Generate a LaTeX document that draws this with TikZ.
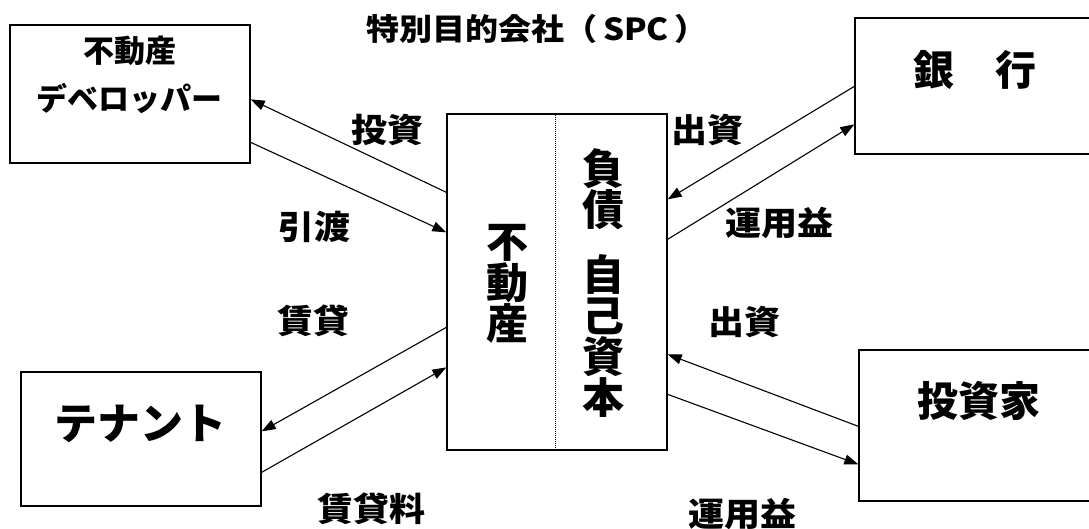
\documentclass[tikz,border=0pt]{standalone}
\usepackage{fontspec}
\setmainfont{Noto Sans CJK JP}
\usetikzlibrary{arrows.meta,calc}
\begin{document}
\begin{tikzpicture}[x=1pt,y=-1pt,
  box/.style={draw,line width=1.3pt,minimum width=240pt,inner sep=0pt},
  conn/.style={line width=1.1pt,-{Triangle[length=14pt,width=10pt]}},
  lab/.style={font=\bfseries\fontsize{36}{38}\selectfont,inner sep=0pt,yscale=0.92},
  big/.style={font=\bfseries\fontsize{41}{43}\selectfont,inner sep=0pt},
  vert/.style={font=\bfseries\fontsize{42}{41}\selectfont,align=center,inner sep=0pt}]
\useasboundingbox (0,0) rectangle (1089,529);
% boxes
\node[box,minimum height=336pt,minimum width=220pt] (spc) at (557,282) {};
\node[box,minimum height=138pt] (dev) at (130,94) {};
\node[box,minimum height=134pt] (ten) at (141,439) {};
\node[box,minimum height=136pt] (bank) at (975,86) {};
\node[box,minimum height=151pt] (inv) at (979,425.5) {};
\draw[line width=1pt,densely dotted] ([xshift=-2pt]spc.north) -- ([xshift=-2pt]spc.south);
% box texts
\node[font=\bfseries\fontsize{33}{35}\selectfont,inner sep=0pt,yscale=0.92] (title) at (537,29) {特別目的会社（\,SPC\,）};
\node[font=\bfseries\fontsize{31}{33}\selectfont,inner sep=0pt] (devA) at (130,51) {不動産};
\node[font=\bfseries\fontsize{31}{33}\selectfont,inner sep=0pt] (devB) at (129,99) {デベロッパー};
\node[big] (bankT) at (975,70) {銀\hspace{1em}行};
\node[big] (invT) at (979,401) {投資家};
\node[font=\bfseries\fontsize{43}{45}\selectfont,inner sep=0pt] (tenT) at (140,424) {テナント};
\node[vert] (re) at (507,284) {不\\動\\産};
\node[vert] (debt) at (603,189) {負\\債};
\node[vert] (eq) at (603,336) {自\\己\\資\\本};
% labels
\node[lab] (l1) at (387,130) {投資};
\node[lab] (l2) at (314,227) {引渡};
\node[lab] (l3) at (313,321) {賃貸};
\node[lab] (l4) at (371,509) {賃貸料};
\node[lab] (l5) at (707,130) {出資};
\node[lab] (l6) at (779,223) {運用益};
\node[lab] (l7) at (744,322) {出資};
\node[lab] (l8) at (742,514) {運用益};
% connectors
\draw[conn] ([yshift=-79pt]spc.north west) -- ([yshift=-75pt]dev.north east);
\draw[conn] ([yshift=-118pt]dev.north east) -- ([yshift=-119pt]spc.north west);
\draw[conn] ([yshift=-214pt]spc.north west) -- ([yshift=-60pt]ten.north east);
\draw[conn] ([yshift=-101pt]ten.north east) -- ([yshift=-254pt]spc.north west);
\draw[conn] ([yshift=-69pt]bank.north west) -- ([yshift=-86pt]spc.north east);
\draw[conn] ([yshift=-126pt]spc.north east) -- ([yshift=-107pt]bank.north west);
\draw[conn] ([yshift=-77pt]inv.north west) -- ([yshift=-241pt]spc.north east);
\draw[conn] ([yshift=-281pt]spc.north east) -- ([yshift=-115pt]inv.north west);
\end{tikzpicture}
\end{document}
